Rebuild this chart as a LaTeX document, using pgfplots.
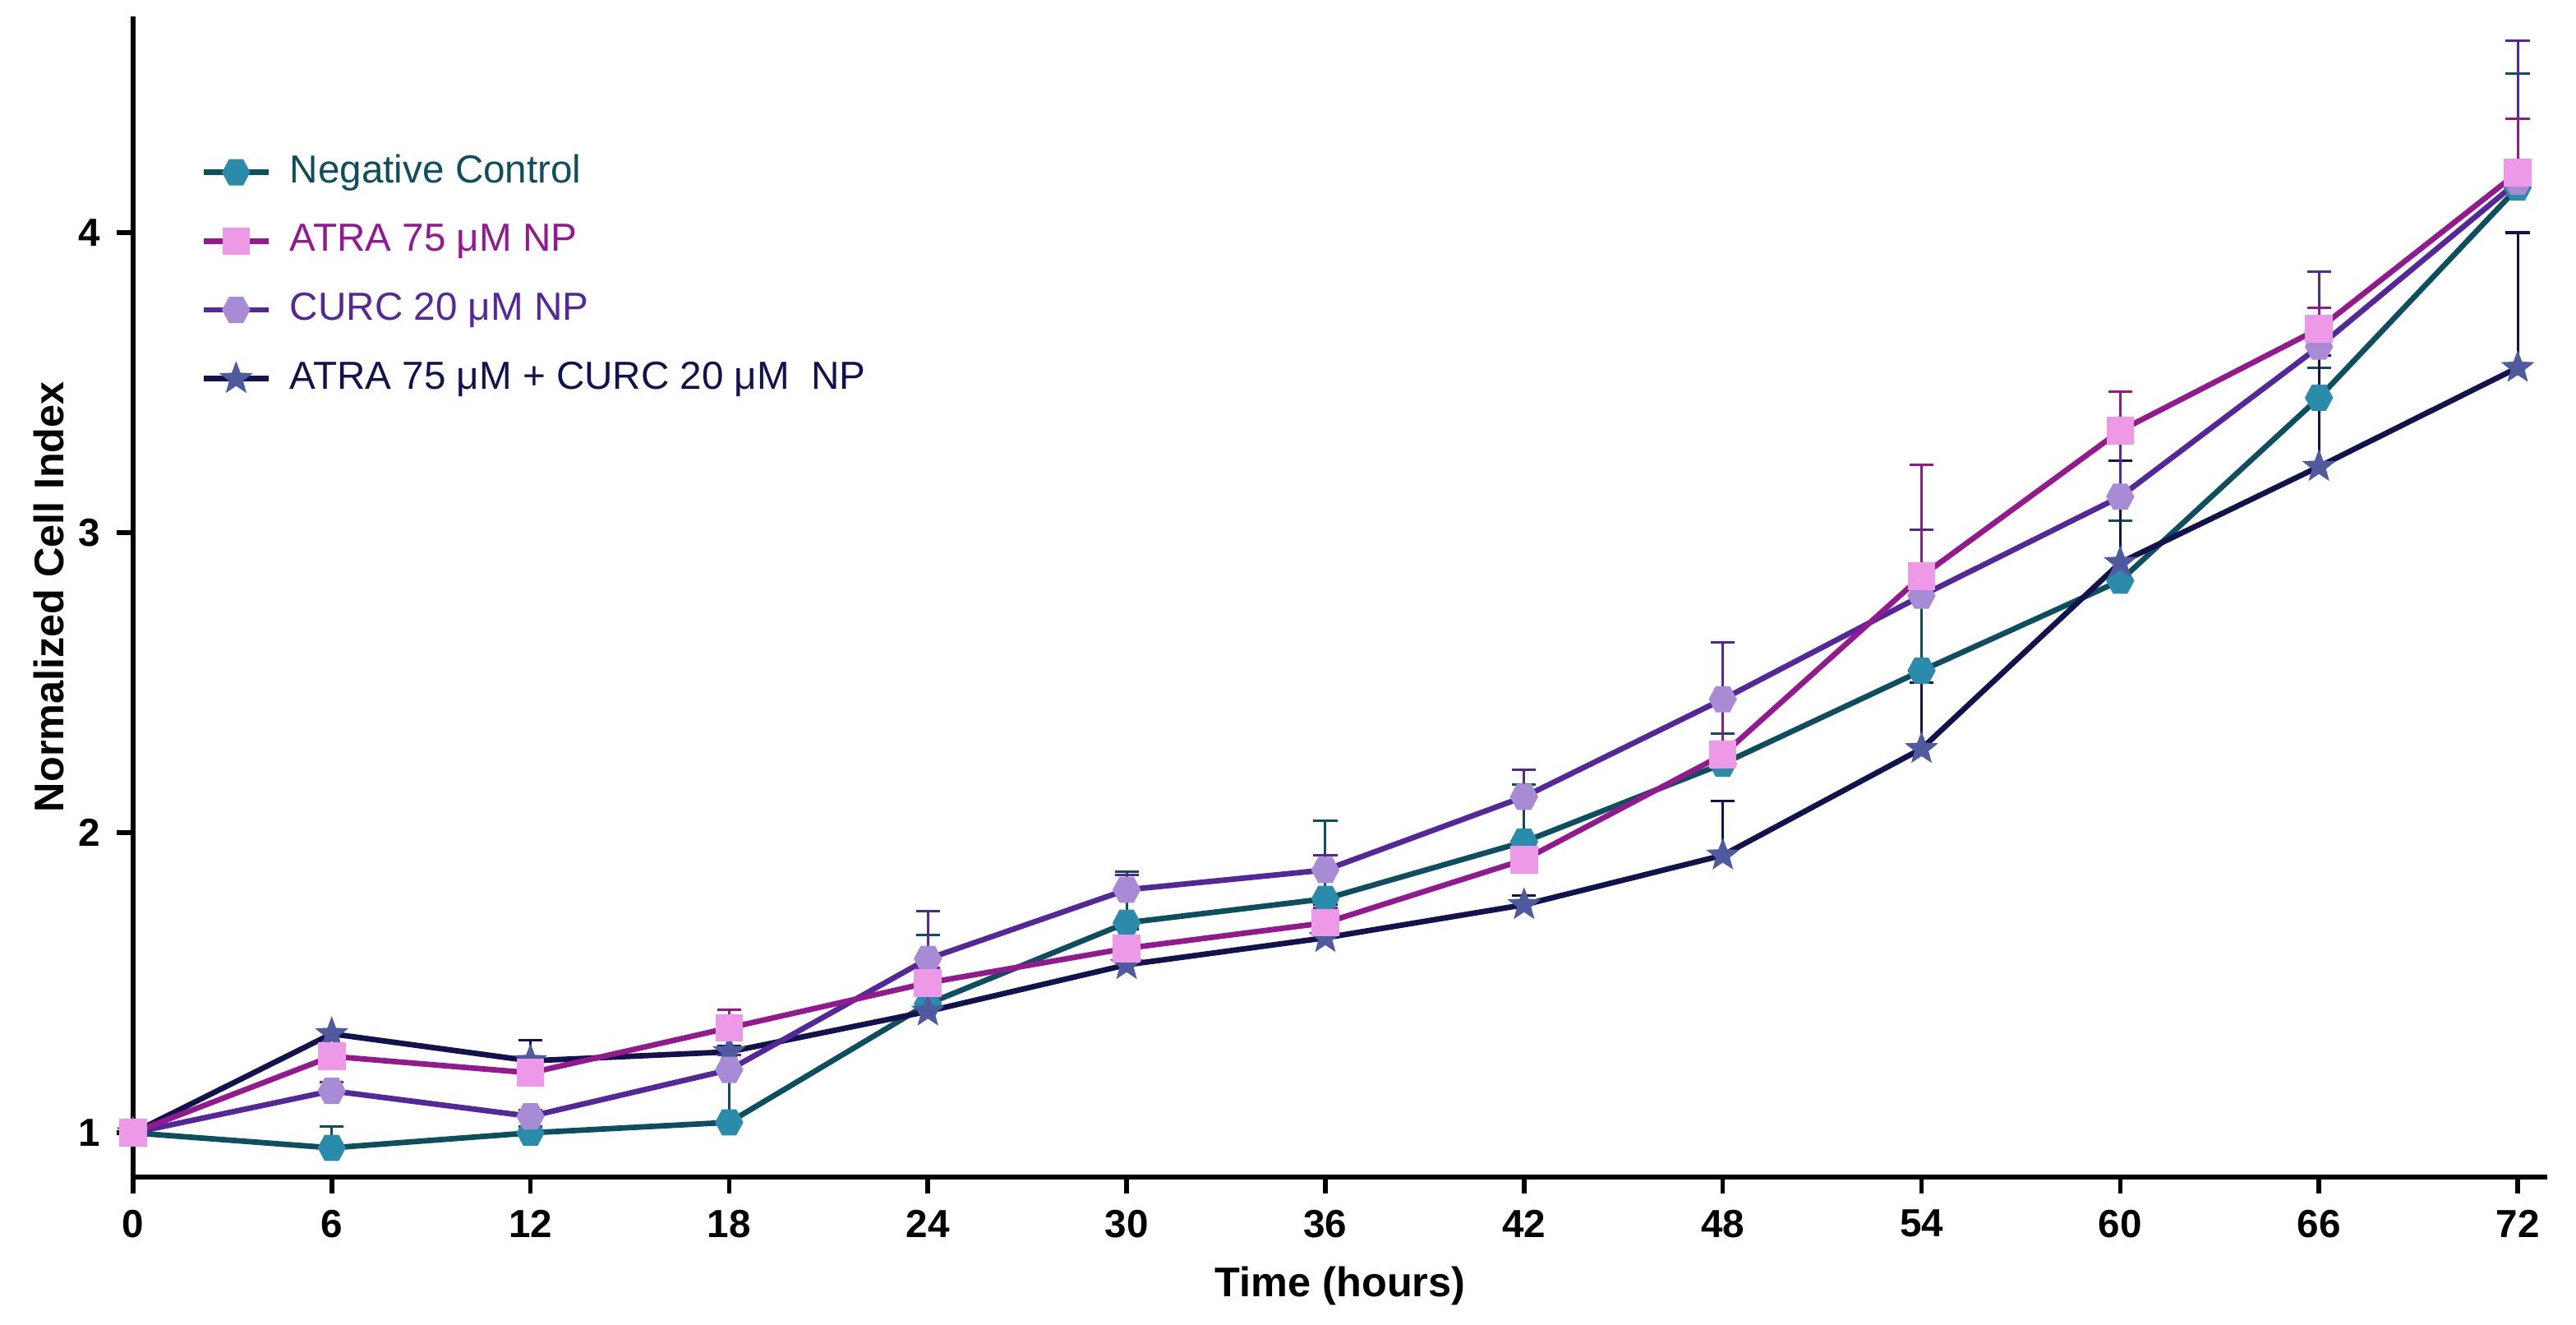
\documentclass[border=0pt]{standalone}
\usepackage{fontspec}
\setmainfont{Liberation Sans}
\usepackage{pgfplots}
\pgfplotsset{compat=1.18}
\usepackage{pgfplotstable}

\definecolor{negline}{HTML}{0E4F5F}
\definecolor{negfill}{HTML}{2A8BAA}
\definecolor{atraline}{HTML}{931A8E}
\definecolor{atrafill}{HTML}{EE98E8}
\definecolor{curcline}{HTML}{55289A}
\definecolor{curcfill}{HTML}{A78BD5}
\definecolor{comboline}{HTML}{12124F}
\definecolor{combofill}{HTML}{505A9E}

% hexagon with flat top and bottom
\pgfdeclareplotmark{hexagon*}{%
  \pgfpathmoveto{\pgfqpoint{\pgfplotmarksize}{0pt}}%
  \pgfpathlineto{\pgfqpoint{0.5\pgfplotmarksize}{0.93\pgfplotmarksize}}%
  \pgfpathlineto{\pgfqpoint{-0.5\pgfplotmarksize}{0.93\pgfplotmarksize}}%
  \pgfpathlineto{\pgfqpoint{-\pgfplotmarksize}{0pt}}%
  \pgfpathlineto{\pgfqpoint{-0.5\pgfplotmarksize}{-0.93\pgfplotmarksize}}%
  \pgfpathlineto{\pgfqpoint{0.5\pgfplotmarksize}{-0.93\pgfplotmarksize}}%
  \pgfpathclose
  \pgfusepathqfillstroke}

% filled five-pointed star
\pgfdeclareplotmark{star5*}{%
  \pgfpathmoveto{\pgfqpointpolar{90}{\pgfplotmarksize}}%
  \pgfpathlineto{\pgfqpointpolar{126}{0.42\pgfplotmarksize}}%
  \pgfpathlineto{\pgfqpointpolar{162}{\pgfplotmarksize}}%
  \pgfpathlineto{\pgfqpointpolar{198}{0.42\pgfplotmarksize}}%
  \pgfpathlineto{\pgfqpointpolar{234}{\pgfplotmarksize}}%
  \pgfpathlineto{\pgfqpointpolar{270}{0.42\pgfplotmarksize}}%
  \pgfpathlineto{\pgfqpointpolar{306}{\pgfplotmarksize}}%
  \pgfpathlineto{\pgfqpointpolar{342}{0.42\pgfplotmarksize}}%
  \pgfpathlineto{\pgfqpointpolar{18}{\pgfplotmarksize}}%
  \pgfpathlineto{\pgfqpointpolar{54}{0.42\pgfplotmarksize}}%
  \pgfpathclose
  \pgfusepathqfillstroke}

\pgfplotstableread{
x  y     e
0  1.00  0.00
6  0.95  0.07
12 1.00  0.02
18 1.035 0.17
24 1.43  0.23
30 1.70  0.17
36 1.78  0.26
42 1.97  0.19
48 2.23  0.10
54 2.54  0.25
60 2.84  0.20
66 3.45  0.10
72 4.15  0.38
}\negdata

\pgfplotstableread{
x  y     e
0  1.00  0.00
6  1.255 0.02
12 1.20  0.02
18 1.35  0.06
24 1.50  0.05
30 1.615 0.08
36 1.70  0.05
42 1.91  0.05
48 2.26  0.19
54 2.855 0.37
60 3.34  0.13
66 3.68  0.07
72 4.20  0.18
}\atradata

\pgfplotstableread{
x  y     e
0  1.00  0.00
6  1.14  0.03
12 1.055 0.02
18 1.21  0.05
24 1.58  0.16
30 1.81  0.05
36 1.876 0.05
42 2.12  0.09
48 2.445 0.19
54 2.79  0.22
60 3.12  0.23
66 3.62  0.25
72 4.17  0.47
}\curcdata

\pgfplotstableread{
x  y     e
0  1.00  0.00
6  1.33  0.01
12 1.24  0.07
18 1.27  0.02
24 1.405 0.065
30 1.56  0.12
36 1.65  0.11
42 1.76  0.03
48 1.925 0.18
54 2.28  0.22
60 2.90  0.34
66 3.22  0.37
72 3.55  0.45
}\combodata

\begin{document}
\begin{tikzpicture}
\begin{axis}[
  name=ax,
  scale only axis,
  width=524.6pt, height=252.1pt,
  xmin=0, xmax=72.9,
  ymin=0.852, ymax=4.72,
  axis lines=left,
  axis line style={-, line width=1.1pt, black},
  xtick={0,6,...,72},
  ytick={1,2,3,4},
  tick align=outside,
  major tick length=3.6pt,
  tick style={line width=1pt, black},
  /pgf/number format/assume math mode=true,
  ticklabel style={font=\bfseries\fontsize{8.5}{10}\selectfont},
  xlabel={Time (hours)},
  ylabel={Normalized Cell Index},
  label style={font=\bfseries\fontsize{9}{11}\selectfont},
  xlabel style={at={(axis description cs:0.5,-0.0936)}, anchor=center},
  ylabel style={at={(axis description cs:-0.0347,0.5)}, anchor=center},
  legend style={draw=none, fill=none, inner sep=0pt, outer sep=0pt,
    at={(axis description cs:0.028,0.885)}, anchor=north west,
    font=\fontsize{8.5}{10}\selectfont, row sep=5.5pt,
    nodes={inner sep=1pt},
    /tikz/every odd column/.append style={column sep=3pt}},
  legend cell align=left,
  legend image code/.code={\draw[mark repeat=2,mark phase=2,#1]
    plot coordinates {(0cm,0cm) (0.25cm,0cm) (0.5cm,0cm)};},
  every axis plot/.append style={line width=1.2pt},
  error bars/y dir=plus,
  error bars/y explicit,
]
\addlegendimage{negline, mark=hexagon*, mark size=2.9pt, mark options={fill=negfill, draw=negfill, line width=0.3pt}}
\addlegendimage{atraline, mark=square*, mark size=2.85pt, mark options={fill=atrafill, draw=atrafill, line width=0.3pt}}
\addlegendimage{curcline, mark=hexagon*, mark size=2.9pt, mark options={fill=curcfill, draw=curcfill, line width=0.3pt}}
\addlegendimage{comboline, mark=star5*, mark size=3.4pt, mark options={fill=combofill, draw=combofill, line width=0.3pt}}

\addplot[forget plot, negline, mark=hexagon*, mark size=2.9pt,
  mark options={fill=negfill, draw=negfill, line width=0.3pt},
  error bars/error bar style={line width=0.55pt, negline},
  error bars/error mark options={rotate=90, mark size=2.6pt, line width=0.55pt, negline}]
  table[x=x, y=y, y error=e] {\negdata};

\addplot[forget plot, comboline, mark=star5*, mark size=3.4pt,
  mark options={fill=combofill, draw=combofill, line width=0.3pt},
  error bars/error bar style={line width=0.55pt, comboline},
  error bars/error mark options={rotate=90, mark size=2.6pt, line width=0.55pt, comboline}]
  table[x=x, y=y, y error=e] {\combodata};

\addplot[forget plot, curcline, mark=hexagon*, mark size=2.9pt,
  mark options={fill=curcfill, draw=curcfill, line width=0.3pt},
  error bars/error bar style={line width=0.55pt, curcline},
  error bars/error mark options={rotate=90, mark size=2.6pt, line width=0.55pt, curcline}]
  table[x=x, y=y, y error=e] {\curcdata};

\addplot[forget plot, atraline, mark=square*, mark size=2.85pt,
  mark options={fill=atrafill, draw=atrafill, line width=0.3pt},
  error bars/error bar style={line width=0.55pt, atraline},
  error bars/error mark options={rotate=90, mark size=2.6pt, line width=0.55pt, atraline}]
  table[x=x, y=y, y error=e] {\atradata};

\legend{\textcolor{negline}{Negative Control},
  \textcolor{atraline}{ATRA 75 μM NP},
  \textcolor{curcline}{CURC 20 μM NP},
  \textcolor{comboline}{ATRA 75 μM + CURC 20 μM\ \ NP}}
\end{axis}
\pgfresetboundingbox
\path[use as bounding box] ([xshift=-28.9pt,yshift=-32pt]ax.south west)
  rectangle ([xshift=6.2pt,yshift=3.6pt]ax.north east);
\end{tikzpicture}
\end{document}
